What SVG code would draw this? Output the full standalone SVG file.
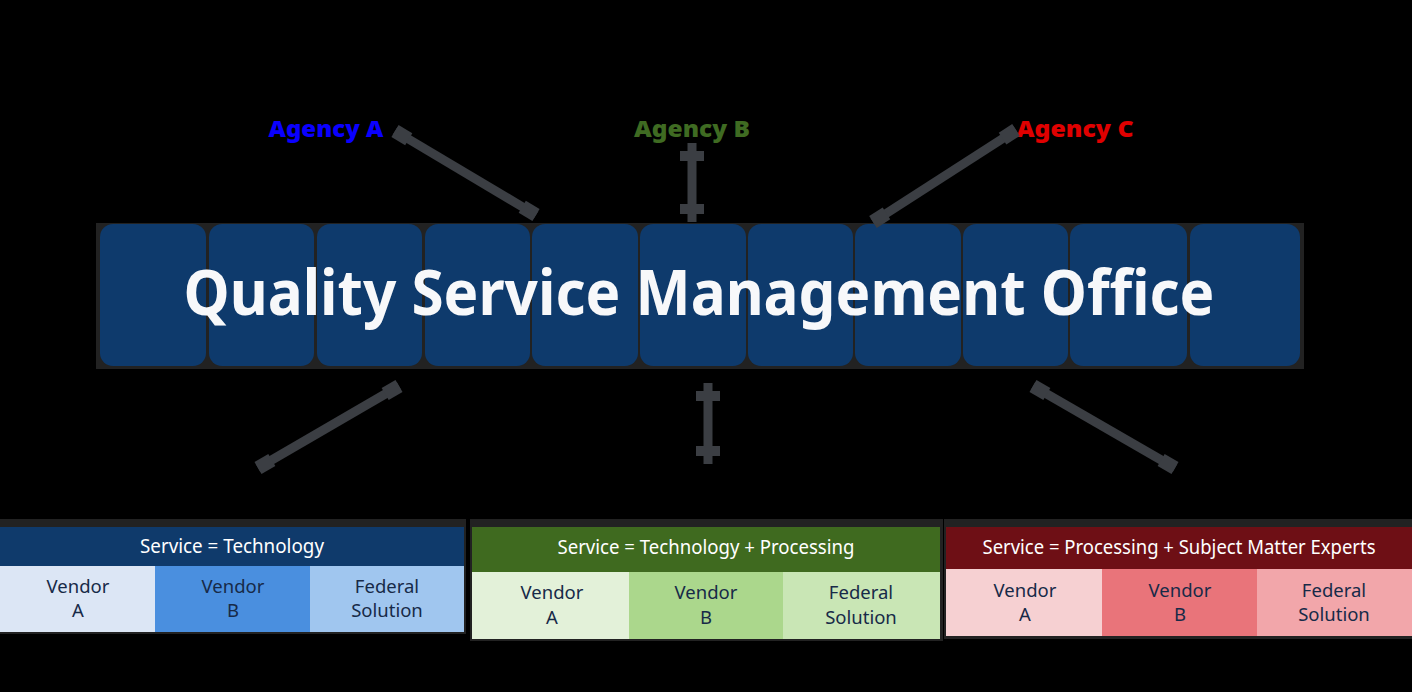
<svg xmlns="http://www.w3.org/2000/svg" width="1412" height="692" viewBox="0 0 1412 692">
<style>
.tile{fill:#0e3a6c}
.con{stroke:#3b3e43;stroke-width:9;fill:none}
.vert{marker-start:url(#cap);marker-end:url(#cap)}
.diag{marker-start:url(#blk);marker-end:url(#blk)}
.agency{font-family:"Noto Sans","Liberation Sans",sans-serif;font-weight:900;font-size:22px;text-anchor:middle}
.hdr{font-family:"Noto Sans","Liberation Sans",sans-serif;font-size:19px;fill:#ffffff;text-anchor:middle}
.cell{font-family:"Noto Sans","Liberation Sans",sans-serif;font-size:18.5px;fill:#172a48;text-anchor:middle}
.back{fill:#222222}
</style>
<defs>
<marker id="cap" markerUnits="userSpaceOnUse" markerWidth="30" markerHeight="24" viewBox="0 0 30 24" refX="24" refY="12" orient="auto-start-reverse">
<rect x="6" y="0" width="10" height="24" fill="#3b3e43"/>
</marker>
<marker id="blk" markerUnits="userSpaceOnUse" markerWidth="20" markerHeight="16" viewBox="0 0 20 16" refX="18" refY="8" orient="auto-start-reverse">
<rect x="2" y="1" width="16" height="14" fill="#3b3e43"/>
</marker>
</defs>
<rect width="1412" height="692" fill="#000000"/>

<g id="qsmo">
<rect class="back" x="96" y="223" width="1208" height="146"/>
<rect class="tile" x="100" y="224" width="106" height="142" rx="13"/>
<rect class="tile" x="209" y="224" width="105" height="142" rx="13"/>
<rect class="tile" x="317" y="224" width="105" height="142" rx="13"/>
<rect class="tile" x="425" y="224" width="105" height="142" rx="13"/>
<rect class="tile" x="532" y="224" width="106" height="142" rx="13"/>
<rect class="tile" x="640" y="224" width="106" height="142" rx="13"/>
<rect class="tile" x="748" y="224" width="105" height="142" rx="13"/>
<rect class="tile" x="855" y="224" width="106" height="142" rx="13"/>
<rect class="tile" x="963" y="224" width="105" height="142" rx="13"/>
<rect class="tile" x="1070" y="224" width="117" height="142" rx="13"/>
<rect class="tile" x="1190" y="224" width="110" height="142" rx="13"/>
<text x="699" y="315" font-family="Noto Sans, Liberation Sans, sans-serif" font-weight="bold" font-size="62" fill="#f7f8fa" text-anchor="middle" textLength="1031" lengthAdjust="spacingAndGlyphs">Quality Service Management Office</text>
</g>

<g id="agency-a"><text class="agency" x="326" y="137" fill="#0a00ff" textLength="115" lengthAdjust="spacingAndGlyphs">Agency A</text></g>
<g id="agency-b"><text class="agency" x="692" y="137" fill="#3f6b22" textLength="116" lengthAdjust="spacingAndGlyphs">Agency B</text></g>
<g id="agency-c"><text class="agency" x="1075" y="137" fill="#e00000" textLength="117" lengthAdjust="spacingAndGlyphs">Agency C</text></g>

<g id="connectors">
<line class="con diag" x1="395" y1="131" x2="536" y2="215"/>
<line class="con vert" x1="692" y1="143" x2="692" y2="222"/>
<line class="con diag" x1="1016" y1="130" x2="873" y2="222"/>
<line class="con diag" x1="399" y1="386" x2="258" y2="468"/>
<line class="con vert" x1="708" y1="383" x2="708" y2="464"/>
<line class="con diag" x1="1033" y1="386" x2="1175" y2="468"/>
</g>

<g id="panel-technology">
<rect class="back" x="0" y="519" width="466" height="115"/>
<rect x="0" y="527" width="464" height="40" fill="#0f3a6b"/>
<text class="hdr" x="232" y="553" textLength="184" lengthAdjust="spacingAndGlyphs">Service = Technology</text>
<rect x="0" y="566" width="155" height="66" fill="#dce6f5"/>
<rect x="155" y="566" width="155" height="66" fill="#4a8fdf"/>
<rect x="310" y="566" width="154" height="66" fill="#a0c6ef"/>
<text class="cell" x="78" y="593">Vendor</text><text class="cell" x="78" y="617">A</text>
<text class="cell" x="233" y="593">Vendor</text><text class="cell" x="233" y="617">B</text>
<text class="cell" x="387" y="593">Federal</text><text class="cell" x="387" y="617">Solution</text>
</g>

<g id="panel-tech-processing">
<rect class="back" x="470" y="519" width="473" height="122"/>
<rect x="472" y="527" width="468" height="45" fill="#3f6a1f"/>
<text class="hdr" x="706" y="554" textLength="297" lengthAdjust="spacingAndGlyphs">Service = Technology + Processing</text>
<rect x="472" y="572" width="157" height="67" fill="#e3f1d9"/>
<rect x="629" y="572" width="154" height="67" fill="#abd78c"/>
<rect x="783" y="572" width="157" height="67" fill="#c9e6b5"/>
<text class="cell" x="552" y="599">Vendor</text><text class="cell" x="552" y="624">A</text>
<text class="cell" x="706" y="599">Vendor</text><text class="cell" x="706" y="624">B</text>
<text class="cell" x="861" y="599">Federal</text><text class="cell" x="861" y="624">Solution</text>
</g>

<g id="panel-processing-sme">
<rect class="back" x="944" y="519" width="468" height="120"/>
<rect x="946" y="527" width="466" height="42" fill="#6e0f15"/>
<text class="hdr" x="1179" y="554" textLength="393" lengthAdjust="spacingAndGlyphs">Service = Processing + Subject Matter Experts</text>
<rect x="946" y="569" width="156" height="67" fill="#f6d0d2"/>
<rect x="1102" y="569" width="155" height="67" fill="#e9747a"/>
<rect x="1257" y="569" width="155" height="67" fill="#f2a6aa"/>
<text class="cell" x="1025" y="597">Vendor</text><text class="cell" x="1025" y="621">A</text>
<text class="cell" x="1180" y="597">Vendor</text><text class="cell" x="1180" y="621">B</text>
<text class="cell" x="1334" y="597">Federal</text><text class="cell" x="1334" y="621">Solution</text>
</g>
</svg>
